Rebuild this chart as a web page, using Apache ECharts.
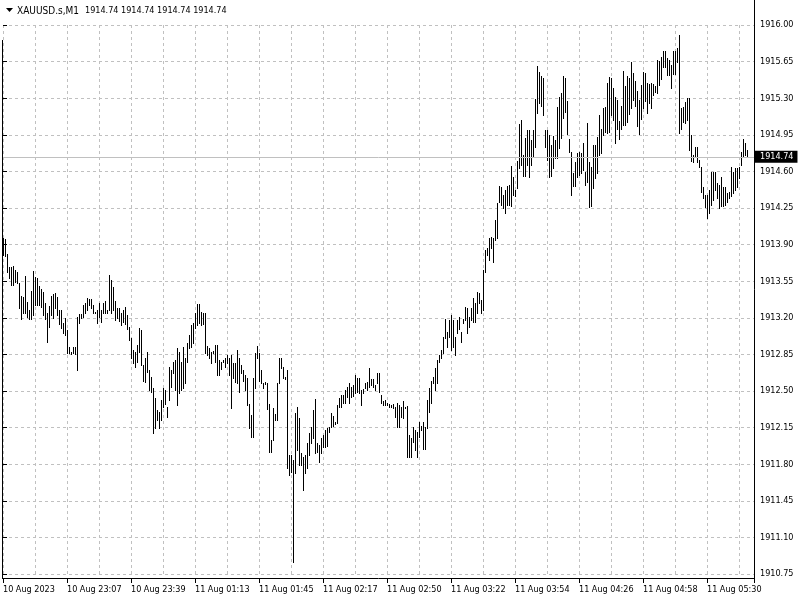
<!DOCTYPE html>
<html><head><meta charset="utf-8">
<script src="https://cdn.jsdelivr.net/npm/echarts@6/dist/echarts.min.js"></script>
<style>html,body{margin:0;padding:0;background:#fff}#c{width:800px;height:600px}</style>
</head><body><div id="c"></div>
<script>
const symbolName = 'XAUUSD.s,M1';
const timeLabels = ['10 Aug 2023','10 Aug 23:07','10 Aug 23:39','11 Aug 01:13','11 Aug 01:45','11 Aug 02:17',
  '11 Aug 02:50','11 Aug 03:22','11 Aug 03:54','11 Aug 04:26','11 Aug 04:58','11 Aug 05:30'];
const barsPerLabel = 32;
const barsPerGrid = 16;
const highs = [
1913.96,1913.95,1913.81,1913.69,1913.69,1913.70,1913.66,1913.64,1913.53,1913.41,
1913.40,1913.60,1913.35,1913.27,1913.46,1913.65,1913.59,1913.58,1913.50,1913.48,
1913.45,1913.34,1913.25,1913.31,1913.41,1913.43,1913.44,1913.40,1913.27,1913.27,
1913.15,1913.20,1913.08,1912.92,1912.87,1912.92,1912.92,1913.21,1913.24,1913.24,
1913.32,1913.34,1913.39,1913.38,1913.38,1913.32,1913.26,1913.27,1913.34,1913.27,
1913.34,1913.36,1913.27,1913.61,1913.56,1913.49,1913.36,1913.29,1913.29,1913.25,
1913.27,1913.30,1913.23,1913.11,1913.01,1912.89,1912.87,1912.94,1913.10,1913.08,
1912.75,1912.82,1912.87,1912.70,1912.63,1912.53,1912.43,1912.32,1912.30,1912.41,
1912.53,1912.51,1912.35,1912.73,1912.70,1912.78,1912.80,1912.91,1912.87,1912.78,
1912.92,1912.82,1912.96,1913.04,1913.13,1913.15,1913.25,1913.33,1913.33,1913.26,
1913.25,1913.25,1912.93,1912.91,1912.87,1912.88,1912.94,1912.94,1912.80,1912.78,
1912.80,1912.82,1912.84,1912.82,1912.84,1912.77,1912.77,1912.89,1912.82,1912.75,
1912.70,1912.65,1912.62,1912.38,1912.27,1912.62,1912.86,1912.93,1912.86,1912.70,
1912.58,1912.59,1912.58,1912.38,1912.03,1912.34,1912.28,1912.58,1912.82,1912.82,
1912.73,1912.63,1912.70,1911.89,1911.89,1911.84,1912.29,1912.35,1912.24,1911.91,
1911.87,1911.89,1912.00,1912.10,1912.16,1912.32,1912.42,1912.00,1911.98,1912.05,
1912.08,1912.13,1912.15,1912.16,1912.29,1912.26,1912.20,1912.37,1912.43,1912.46,
1912.46,1912.51,1912.54,1912.58,1912.54,1912.56,1912.65,1912.62,1912.62,1912.51,
1912.52,1912.58,1912.59,1912.72,1912.61,1912.61,1912.56,1912.67,1912.67,1912.46,
1912.40,1912.41,1912.39,1912.38,1912.37,1912.38,1912.35,1912.39,1912.37,1912.35,
1912.40,1912.35,1912.36,1912.08,1912.05,1912.16,1912.13,1912.11,1912.20,1912.17,
1912.20,1912.16,1912.41,1912.53,1912.60,1912.63,1912.72,1912.80,1912.84,1912.89,
1913.02,1913.19,1913.06,1913.18,1913.23,1913.18,1913.02,1913.18,1913.21,1913.06,
1913.19,1913.30,1913.29,1913.21,1913.29,1913.39,1913.34,1913.45,1913.44,1913.37,
1913.66,1913.85,1913.87,1913.96,1913.97,1913.96,1914.14,1914.30,1914.46,1914.45,
1914.37,1914.42,1914.46,1914.47,1914.65,1914.55,1914.42,1914.70,1915.05,1915.09,
1914.76,1914.92,1915.00,1915.00,1914.90,1915.00,1915.29,1915.61,1915.55,1915.51,
1915.49,1915.00,1915.00,1914.95,1914.85,1914.94,1914.90,1915.22,1915.31,1915.35,
1915.51,1915.49,1915.27,1914.91,1914.79,1914.58,1914.69,1914.78,1914.79,1914.78,
1914.87,1914.59,1915.06,1914.69,1914.64,1914.85,1914.85,1914.93,1915.14,1915.01,
1915.21,1915.22,1915.45,1915.50,1915.49,1915.40,1915.31,1915.28,1915.08,1915.23,
1915.56,1915.42,1915.51,1915.49,1915.65,1915.54,1915.46,1915.37,1915.28,1915.43,
1915.55,1915.54,1915.45,1915.44,1915.45,1915.44,1915.42,1915.67,1915.66,1915.69,
1915.75,1915.75,1915.68,1915.67,1915.62,1915.75,1915.75,1915.78,1915.90,1915.21,
1915.22,1915.26,1915.30,1915.30,1914.95,1914.76,1914.83,1914.83,1914.71,1914.64,
1914.45,1914.37,1914.37,1914.42,1914.59,1914.59,1914.59,1914.49,1914.47,1914.55,
1914.45,1914.45,1914.39,1914.40,1914.64,1914.59,1914.63,1914.63,1914.64,1914.79,
1914.91,1914.87,1914.80,1914.74
];
const lows = [
1913.80,1913.79,1913.64,1913.58,1913.51,1913.51,1913.54,1913.53,1913.29,1913.19,
1913.25,1913.25,1913.21,1913.19,1913.19,1913.23,1913.32,1913.32,1913.32,1913.30,
1913.23,1913.19,1912.97,1913.11,1913.23,1913.20,1913.29,1913.23,1913.14,1913.10,
1913.05,1913.04,1912.86,1912.86,1912.85,1912.86,1912.85,1912.70,1913.15,1913.20,
1913.21,1913.25,1913.27,1913.32,1913.29,1913.25,1913.25,1913.15,1913.21,1913.16,
1913.25,1913.25,1913.25,1913.27,1913.25,1913.27,1913.18,1913.20,1913.17,1913.13,
1913.16,1913.14,1913.09,1912.99,1912.82,1912.77,1912.73,1912.78,1912.87,1912.75,
1912.60,1912.59,1912.68,1912.51,1912.49,1912.10,1912.15,1912.22,1912.15,1912.22,
1912.35,1912.38,1912.25,1912.41,1912.54,1912.67,1912.51,1912.37,1912.48,1912.51,
1912.53,1912.58,1912.78,1912.91,1912.92,1912.96,1913.10,1913.13,1913.15,1913.13,
1913.14,1912.86,1912.84,1912.82,1912.77,1912.86,1912.78,1912.65,1912.65,1912.71,
1912.78,1912.73,1912.77,1912.65,1912.34,1912.62,1912.59,1912.58,1912.49,1912.67,
1912.60,1912.51,1912.37,1912.15,1912.06,1912.06,1912.53,1912.82,1912.60,1912.58,
1912.53,1912.57,1912.33,1911.92,1911.92,1912.03,1912.22,1912.22,1912.58,1912.72,
1912.62,1912.61,1911.76,1911.70,1911.73,1910.86,1911.72,1911.94,1911.79,1911.79,
1911.55,1911.72,1911.76,1911.89,1912.00,1912.05,1911.91,1911.92,1911.82,1911.91,
1911.96,1911.96,1911.97,1912.11,1912.16,1912.17,1912.18,1912.19,1912.35,1912.35,
1912.39,1912.39,1912.44,1912.39,1912.44,1912.45,1912.48,1912.49,1912.48,1912.37,
1912.48,1912.53,1912.51,1912.54,1912.56,1912.54,1912.51,1912.58,1912.49,1912.39,
1912.37,1912.37,1912.37,1912.35,1912.35,1912.34,1912.25,1912.16,1912.16,1912.25,
1912.24,1912.34,1911.87,1911.87,1911.87,1912.01,1911.94,1911.87,1912.06,1912.13,
1911.95,1911.95,1912.15,1912.30,1912.39,1912.58,1912.51,1912.58,1912.78,1912.82,
1912.86,1913.01,1912.92,1913.02,1912.89,1912.92,1912.84,1913.05,1913.09,1912.97,
1913.15,1913.18,1913.05,1913.11,1913.18,1913.16,1913.16,1913.25,1913.34,1913.25,
1913.27,1913.64,1913.80,1913.75,1913.87,1913.73,1913.94,1913.96,1914.31,1914.28,
1914.25,1914.20,1914.28,1914.28,1914.27,1914.37,1914.36,1914.44,1914.63,1914.66,
1914.56,1914.56,1914.66,1914.55,1914.66,1914.75,1914.83,1915.16,1915.25,1915.23,
1915.14,1914.83,1914.71,1914.55,1914.56,1914.63,1914.73,1914.73,1914.82,1914.92,
1915.11,1915.17,1914.96,1914.79,1914.37,1914.46,1914.46,1914.55,1914.57,1914.58,
1914.61,1914.47,1914.50,1914.26,1914.27,1914.44,1914.54,1914.58,1914.76,1914.78,
1914.95,1914.98,1914.97,1914.98,1915.14,1915.09,1914.87,1915.01,1914.91,1915.01,
1915.04,1915.04,1915.07,1915.15,1915.21,1915.28,1915.23,1915.03,1914.96,1915.10,
1915.21,1915.27,1915.16,1915.25,1915.21,1915.33,1915.36,1915.35,1915.43,1915.48,
1915.60,1915.60,1915.52,1915.52,1915.40,1915.53,1915.53,1915.65,1914.97,1915.01,
1915.07,1915.06,1915.09,1914.80,1914.70,1914.69,1914.75,1914.69,1914.64,1914.40,
1914.35,1914.26,1914.15,1914.20,1914.28,1914.33,1914.42,1914.35,1914.25,1914.27,
1914.27,1914.28,1914.31,1914.35,1914.36,1914.39,1914.42,1914.45,1914.54,1914.66,
1914.75,1914.76,1914.74,1914.74
];
const lastBar = { open: 1914.74, high: 1914.74, low: 1914.74, close: 1914.74 };
const priceMin = 1910.75, priceMax = 1916.00, priceStep = 0.35;
const chartShiftBars = 2.5;

const FONT = 'Tahoma, "DejaVu Sans Condensed", "Liberation Sans", sans-serif';
const GRID_COLOR = '#c0c0c0';
const N = highs.length;
const xMax = N - 1 + chartShiftBars;
const data = highs.map((h, i) => [i, h, lows[i]]);
const ohlcText = [lastBar.open, lastBar.high, lastBar.low, lastBar.close].map(v => v.toFixed(2)).join(' ');

const chart = echarts.init(document.getElementById('c'), null, { renderer: 'canvas' });
chart.setOption({
  animation: false,
  backgroundColor: '#fff',
  textStyle: { fontFamily: FONT, fontSize: 9, color: '#000' },
  grid: { left: 3, right: 46, top: 25, height: 549, outerBoundsMode: 'none', containLabel: false },
  xAxis: [
    { type: 'value', min: 0, max: xMax, interval: barsPerGrid,
      axisLine: { show: false }, axisTick: { show: false }, axisLabel: { show: false },
      splitLine: { show: true, lineStyle: { color: GRID_COLOR, type: [3, 3], width: 1 } } },
    { type: 'value', min: 0, max: xMax, interval: barsPerLabel, position: 'bottom', offset: 5,
      axisLine: { show: false },
      axisTick: { show: true, length: 4, inside: false, lineStyle: { color: '#000' } },
      axisLabel: { show: true, align: 'left', margin: 6, color: '#000', fontFamily: FONT, fontSize: 9,
        formatter: v => (Number.isInteger(v / barsPerLabel) && timeLabels[v / barsPerLabel]) || '' },
      splitLine: { show: false } }
  ],
  yAxis: [{
    type: 'value', position: 'right', min: priceMin, max: priceMax, interval: priceStep,
    axisLine: { show: false },
    axisTick: { show: true, length: 4, inside: false, lineStyle: { color: '#000' } },
    axisLabel: { show: true, margin: 6, color: '#000', fontFamily: FONT, fontSize: 9, formatter: v => v.toFixed(2) },
    splitLine: { show: true, lineStyle: { color: GRID_COLOR, type: [3, 3], width: 1 } }
  }],
  series: [
    {
      type: 'line', xAxisIndex: 0, yAxisIndex: 0, data: [[N - 1, lastBar.close]],
      showSymbol: false, symbol: 'none', lineStyle: { opacity: 0 }, silent: true, z: 1,
      markLine: {
        silent: true, symbol: 'none', animation: false,
        lineStyle: { color: GRID_COLOR, type: 'solid', width: 1 },
        label: { show: true, position: 'end', distance: 1, formatter: lastBar.close.toFixed(2),
          backgroundColor: '#000', color: '#fff', padding: [2, 4, 1, 5], fontFamily: FONT, fontSize: 9 },
        data: [{ yAxis: lastBar.close }]
      }
    },
    {
      type: 'custom', xAxisIndex: 0, yAxisIndex: 0, data: data, z: 3, silent: true,
      encode: { x: 0, y: [1, 2] },
      renderItem: (params, api) => {
        const i = api.value(0);
        const top = api.coord([i, api.value(1)]);
        const bot = api.coord([i, api.value(2)]);
        const x = Math.round(top[0]) + 0.5;
        const y1 = Math.round(top[1]);
        let y2 = Math.round(bot[1]) + 1;
        if (y2 - y1 < 1) y2 = y1 + 1;
        return { type: 'line', shape: { x1: x, y1: y1, x2: x, y2: y2 },
          style: { stroke: '#000', lineWidth: 1, lineCap: 'butt' } };
      }
    }
  ],
  graphic: [
    { type: 'polygon', z: 100, shape: { points: [[6, 8], [13, 8], [9.5, 12]] }, style: { fill: '#000' }, silent: true },
    { type: 'text', z: 100, x: 17, y: 11, style: { text: symbolName, font: '10px ' + FONT, fill: '#000', verticalAlign: 'middle' }, silent: true },
    { type: 'text', z: 100, x: 85, y: 11, style: { text: ohlcText, font: '9px ' + FONT, fill: '#000', verticalAlign: 'middle' }, silent: true },
    { type: 'line', z: 100, shape: { x1: 2.5, y1: 40, x2: 2.5, y2: 579 }, style: { stroke: '#000', lineWidth: 1 }, silent: true },
    { type: 'line', z: 100, shape: { x1: 2, y1: 578.5, x2: 755, y2: 578.5 }, style: { stroke: '#000', lineWidth: 1 }, silent: true },
    { type: 'line', z: 100, shape: { x1: 754.5, y1: 0, x2: 754.5, y2: 579 }, style: { stroke: '#000', lineWidth: 1 }, silent: true }
  ]
});
</script></body></html>
